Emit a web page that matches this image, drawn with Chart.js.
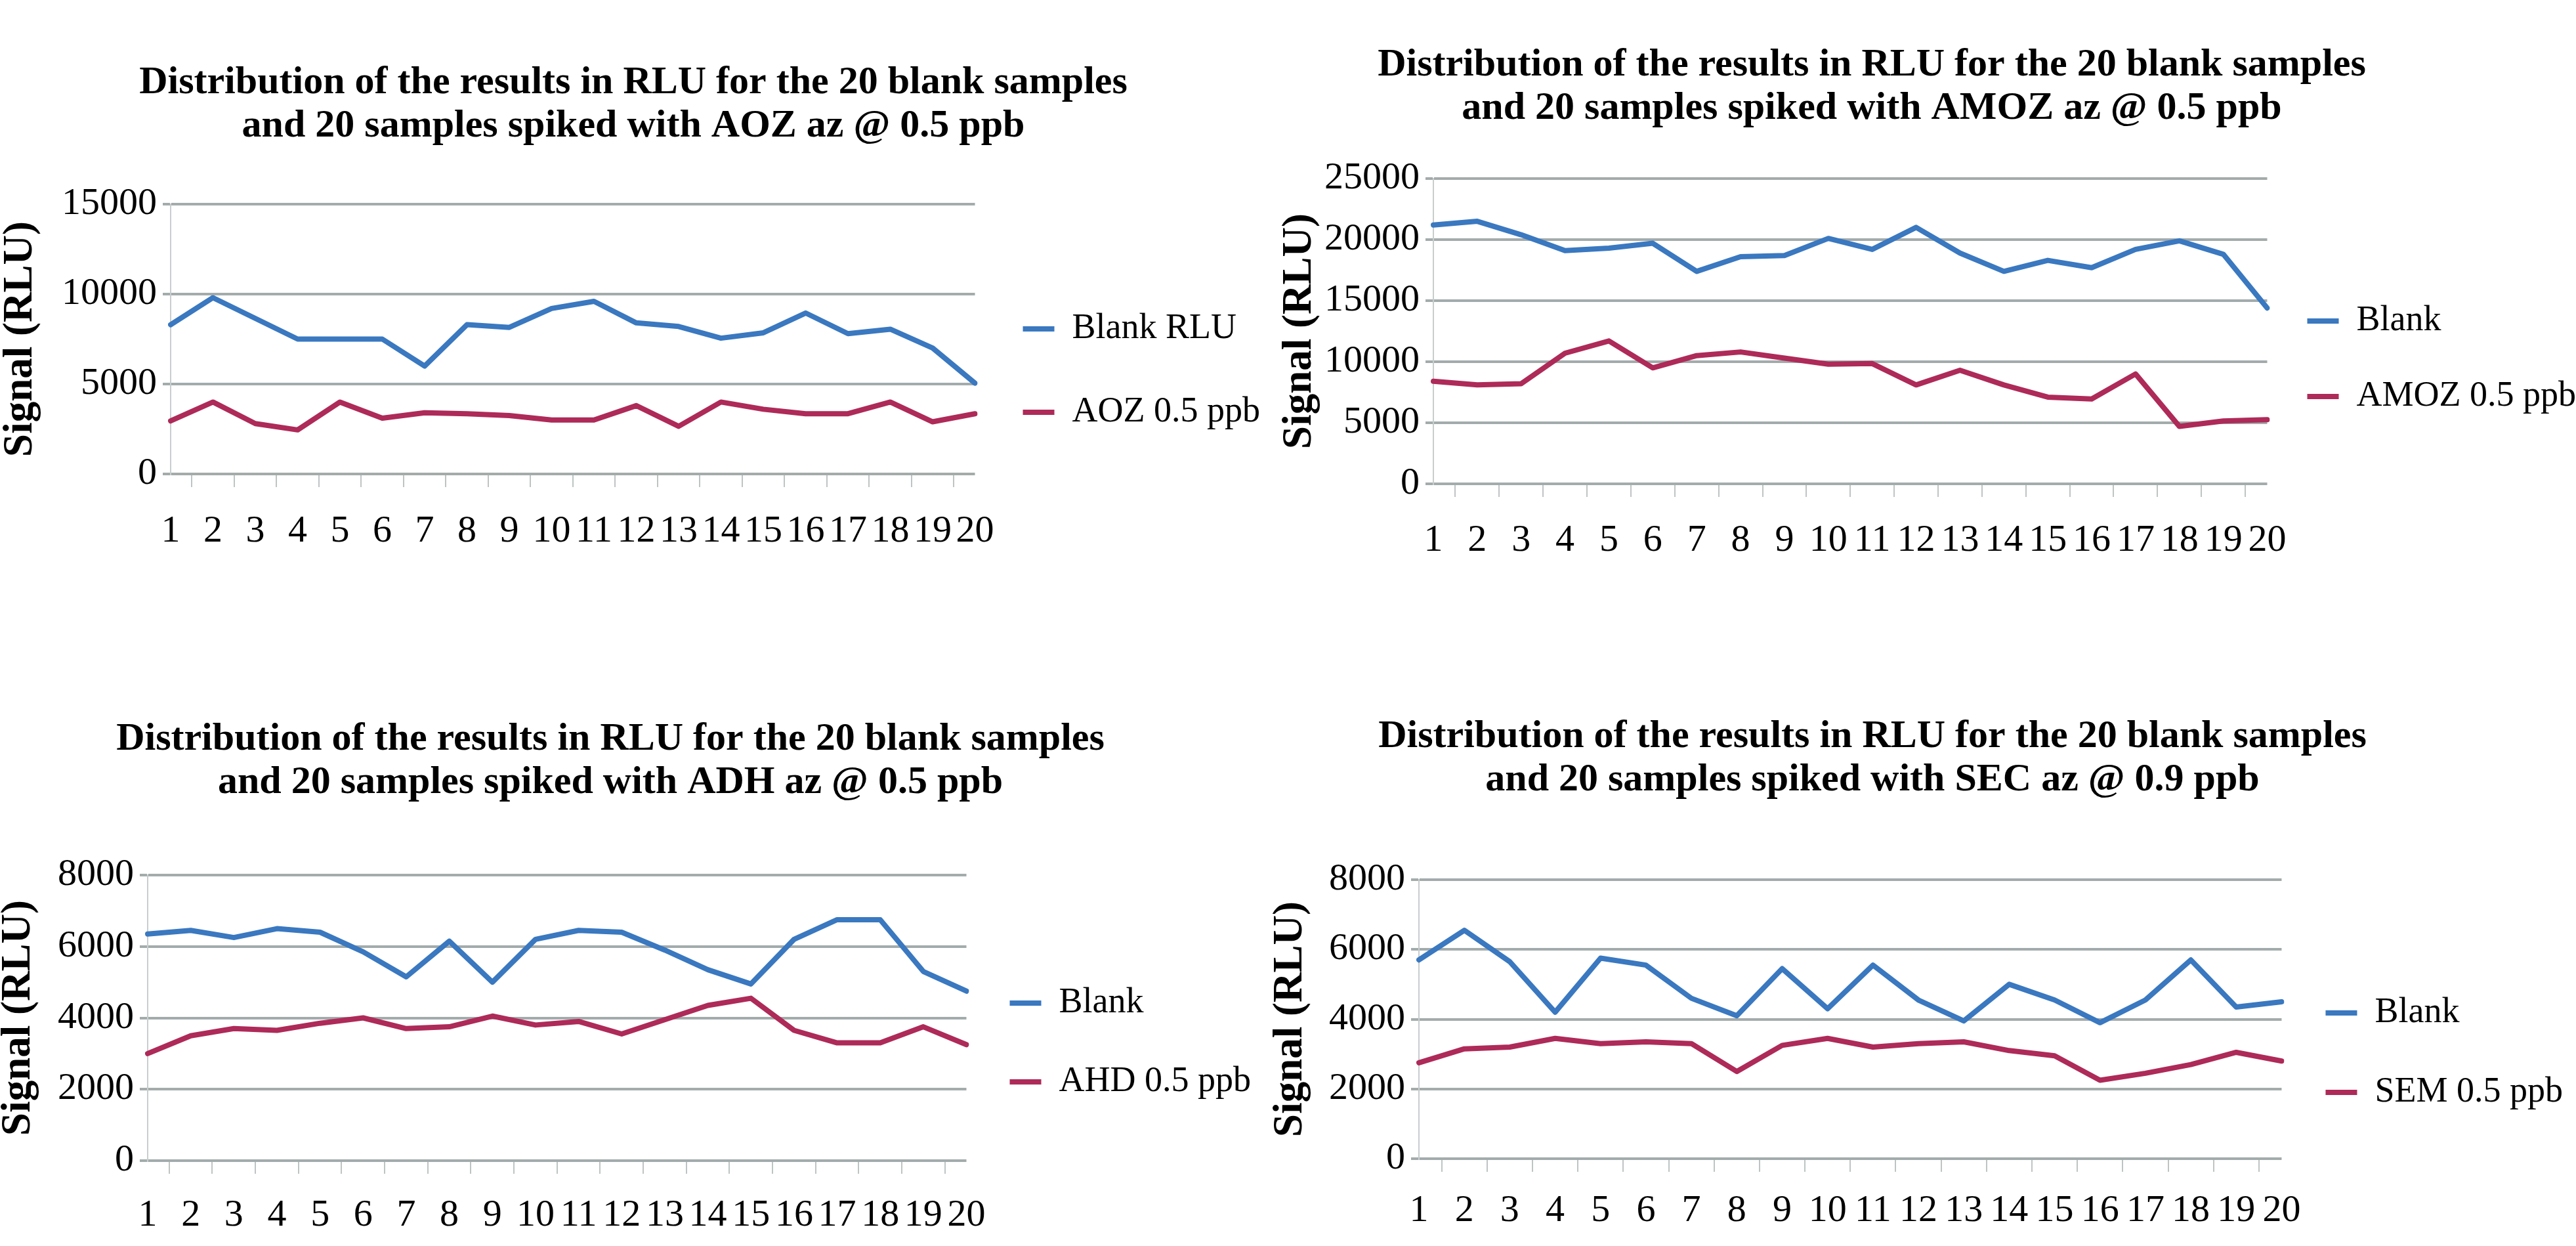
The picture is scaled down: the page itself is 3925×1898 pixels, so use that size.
<!DOCTYPE html>
<html>
<head>
<meta charset="utf-8">
<title>Distribution of the results in RLU</title>
<script src="https://cdn.jsdelivr.net/npm/chart.js@4.4.0/dist/chart.umd.min.js"></script>
<style>
  html, body { margin: 0; padding: 0; background: #fff; overflow: hidden; }
  body { width: 3925px; height: 1898px; position: relative; }
  .panel { position: absolute; }
</style>
</head>
<body>
<div class="panel" style="left:0px;top:0px"><canvas id="aoz" width="1930" height="870"></canvas></div>
<div class="panel" style="left:1769px;top:0px"><canvas id="amoz" width="2166" height="880"></canvas></div>
<div class="panel" style="left:-56px;top:1040px"><canvas id="ahd" width="1972" height="858"></canvas></div>
<div class="panel" style="left:1791px;top:1040px"><canvas id="sem" width="2124" height="858"></canvas></div>
<script>
// sample numbers on the x axis
const samples = ['1', '2', '3', '4', '5', '6', '7', '8', '9', '10',
  '11', '12', '13', '14', '15', '16', '17', '18', '19', '20'];

const titleLine1 = 'Distribution of the results in RLU for the 20 blank samples';

// AOZ panel
const aozTitle = 'and 20 samples spiked with AOZ az @ 0.5 ppb';
const aozNames = ['Blank RLU', 'AOZ 0.5 ppb'];
const aozBlank = [8300, 9800, 8650, 7500, 7500, 7500, 6000, 8300, 8150, 9200,
  9600, 8400, 8200, 7550, 7850, 8950, 7800, 8050, 7000, 5050];
const aozSpiked = [2950, 4000, 2800, 2450, 4000, 3100, 3400, 3350, 3250, 3000,
  3000, 3800, 2650, 4000, 3600, 3350, 3350, 4000, 2900, 3350];

// AMOZ panel
const amozTitle = 'and 20 samples spiked with AMOZ az @ 0.5 ppb';
const amozNames = ['Blank', 'AMOZ 0.5 ppb'];
const amozBlank = [21200, 21500, 20400, 19100, 19300, 19700, 17400, 18600, 18700, 20100,
  19200, 21000, 18900, 17400, 18300, 17700, 19200, 19900, 18800, 14400];
const amozSpiked = [8400, 8100, 8200, 10700, 11700, 9500, 10500, 10800, 10300, 9800,
  9850, 8100, 9300, 8100, 7100, 6950, 9000, 4700, 5150, 5250];

// ADH panel
const ahdTitle = 'and 20 samples spiked with ADH az @ 0.5 ppb';
const ahdNames = ['Blank', 'AHD 0.5 ppb'];
const ahdBlank = [6350, 6450, 6250, 6500, 6400, 5850, 5150, 6150, 5000, 6200,
  6450, 6400, 5900, 5350, 4950, 6200, 6750, 6750, 5300, 4750];
const ahdSpiked = [3000, 3500, 3700, 3650, 3850, 4000, 3700, 3750, 4050, 3800,
  3900, 3550, 3950, 4350, 4550, 3650, 3300, 3300, 3750, 3250];

// SEM panel
const semTitle = 'and 20 samples spiked with SEC az @ 0.9 ppb';
const semNames = ['Blank', 'SEM 0.5 ppb'];
const semBlank = [5700, 6550, 5650, 4200, 5750, 5550, 4600, 4100, 5450, 4300,
  5550, 4550, 3950, 5000, 4550, 3900, 4550, 5700, 4350, 4500];
const semSpiked = [2750, 3150, 3200, 3450, 3300, 3350, 3300, 2500, 3250, 3450,
  3200, 3300, 3350, 3100, 2950, 2250, 2450, 2700, 3050, 2800];

// y axis ranges: [max, step]
const aozRange = [15000, 5000];
const amozRange = [25000, 5000];
const ahdRange = [8000, 2000];
const semRange = [8000, 2000];

const BLUE = '#3A78C0';
const RED = '#AE2A58';
const SERIF = "'Liberation Serif', 'Times New Roman', serif";

Chart.defaults.font.family = SERIF;
Chart.defaults.color = '#000';

function lineChart(id, title, names, blank, spiked, range, p) {
  const series = (label, data, color) => ({
    label: label,
    data: data,
    borderColor: color,
    backgroundColor: color,
    borderWidth: 8,
    borderJoinStyle: 'round',
    borderCapStyle: 'round',
    pointRadius: 0,
    pointHoverRadius: 0,
    pointStyle: 'line',
    tension: 0,
    fill: false
  });

  return new Chart(document.getElementById(id), {
    type: 'line',
    data: {
      labels: samples,
      datasets: [series(names[0], blank, BLUE), series(names[1], spiked, RED)]
    },
    options: {
      responsive: false,
      animation: false,
      devicePixelRatio: 1,
      layout: { padding: 0 },
      plugins: {
        title: {
          display: true,
          text: [titleLine1, title],
          color: '#000',
          font: { size: 60, weight: 'bold', lineHeight: 1.1 },
          padding: { top: p.titleTop, bottom: p.titleBottom }
        },
        legend: {
          position: 'right',
          align: 'start',
          // empty legend title only pushes the two entries down
          title: {
            display: true,
            text: '',
            font: { size: 10, lineHeight: 1 },
            padding: { top: p.legendTop - 10, bottom: 0 }
          },
          labels: {
            usePointStyle: true,
            pointStyle: 'line',
            pointStyleWidth: 48,
            padding: p.legendPad,
            color: '#000',
            font: { size: 54 }
          }
        },
        tooltip: { enabled: false }
      },
      scales: {
        x: {
          grid: {
            offset: true,
            drawOnChartArea: false,
            drawTicks: true,
            tickLength: 20,
            color: '#BEC4C4',
            lineWidth: 2
          },
          border: { display: false },
          ticks: {
            font: { size: 58 },
            padding: p.xPad,
            autoSkip: false,
            maxRotation: 0,
            minRotation: 0
          },
          afterFit: function(scale) { scale.height = p.xHeight; }
        },
        y: {
          min: 0,
          max: range[0],
          ticks: {
            stepSize: range[1],
            font: { size: 58 },
            padding: 9,
            callback: function(value) { return String(value); }
          },
          grid: { color: '#A3ABAB', lineWidth: 4, tickLength: 12 },
          border: { display: true, color: '#C8CDCD', width: 2 },
          title: {
            display: true,
            text: 'Signal (RLU)',
            font: { size: 63, weight: 'bold', lineHeight: 1 },
            padding: { top: p.yTitlePad, bottom: 0 }
          },
          afterFit: function(scale) { scale.width = p.yWidth; }
        }
      }
    }
  });
}

lineChart('aoz', aozTitle, aozNames, aozBlank, aozSpiked, aozRange,
  { titleTop: 93, titleBottom: 86, legendTop: 401, legendPad: 73, xPad: 33, xHeight: 148, yWidth: 260, yTitlePad: 0 });
lineChart('amoz', amozTitle, amozNames, amozBlank, amozSpiked, amozRange,
  { titleTop: 66, titleBottom: 74, legendTop: 401, legendPad: 61, xPad: 32, xHeight: 143, yWidth: 415, yTitlePad: 180 });
lineChart('ahd', ahdTitle, ahdNames, ahdBlank, ahdSpiked, ahdRange,
  { titleTop: 53, titleBottom: 108, legendTop: 395, legendPad: 66, xPad: 29, xHeight: 130, yWidth: 281, yTitlePad: 53 });
lineChart('sem', semTitle, semNames, semBlank, semSpiked, semRange,
  { titleTop: 49, titleBottom: 119, legendTop: 409, legendPad: 67, xPad: 25, xHeight: 133, yWidth: 371, yTitlePad: 144 });
</script>
</body>
</html>
